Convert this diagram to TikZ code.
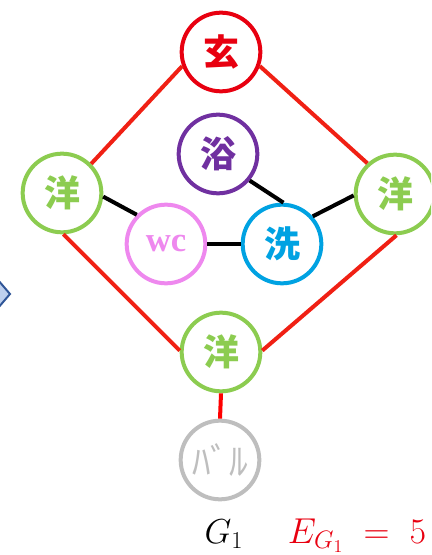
\documentclass[tikz,border=0pt]{standalone}
\usepackage{fix-cm}
\usepackage{fontspec}
\setmainfont{Liberation Serif}
\newfontfamily\cjk{Noto Sans CJK JP}
\definecolor{cRed}{RGB}{232,0,16}
\definecolor{cEdge}{RGB}{240,32,20}
\definecolor{cGreen}{RGB}{140,204,80}
\definecolor{cPurple}{RGB}{112,48,160}
\definecolor{cPink}{RGB}{238,136,238}
\definecolor{cBlue}{RGB}{0,162,226}
\definecolor{cGray}{RGB}{190,190,190}
\definecolor{cChevFill}{RGB}{190,208,238}
\definecolor{cChevLine}{RGB}{47,85,151}
\tikzset{
  room/.style={circle, draw=#1, line width=3pt, minimum size=59pt, inner sep=0pt, fill=white,
    text=#1, font=\cjk\bfseries\fontsize{27}{30}\selectfont},
  redge/.style={draw=cEdge, line width=3pt},
  bedge/.style={draw=black, line width=3pt},
}
\begin{document}
\begin{tikzpicture}[x=0.75pt, y=-0.75pt]
\useasboundingbox (0,0) rectangle (431,555);
\clip (0,0) rectangle (431,555);
% partial chevron at the left edge
\draw[fill=cChevFill, draw=cChevLine, line width=1.5pt, line join=miter] (-8,273) -- (10,294) -- (-8,315);
% nodes
\node[room=cRed] (gen) at (221,52) {玄};
\node[room=cGreen] (yoL) at (62,193) {洋};
\node[room=cGreen] (yoR) at (395,194) {洋};
\node[room=cPurple] (yu) at (218,154) {浴};
\node[room=cPink, font=\bfseries\fontsize{26}{30}\selectfont] (wc) at (166,244) {wc};
\node[room=cBlue] (sen) at (282,244) {洗};
\node[room=cGreen] (yoB) at (221,352) {洋};
\node[room=cGray, font=\cjk\fontsize{28}{30}\selectfont] (bal) at (220,460) {ﾊﾞﾙ};
% edges
\draw[redge] (gen.200) -- (yoL.45);
\draw[redge] (gen.-20) -- (yoR.132);
\draw[redge] (yoL.-88) -- (yoB.178);
\draw[redge] (yoR.-88) -- (yoB.2);
\draw[redge, draw=red] (yoB.south) -- (bal.north);
\draw[bedge] (yoL.-5) -- (wc.135);
\draw[bedge] (wc) -- (sen);
\draw[bedge] (yu.-40) -- (sen.88);
\draw[bedge] (sen.42) -- (yoR.182);
% labels
\node[anchor=base, inner sep=0pt, font=\fontsize{26}{30}\selectfont] (glab) at (224,543) {$G_1$};
\node[anchor=base, inner sep=0pt, text=cRed, font=\fontsize{27}{30}\selectfont] (elab) at (357,543) {$E_{G_1}\;=\;5$};
\end{tikzpicture}
\end{document}
